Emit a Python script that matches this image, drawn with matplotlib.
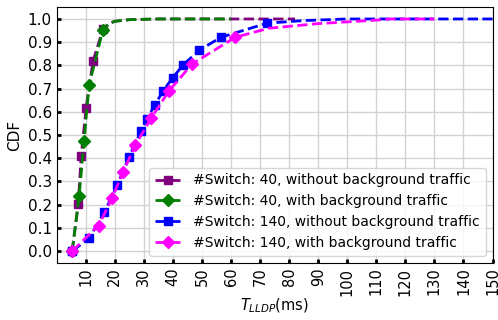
import matplotlib
matplotlib.use("Agg")
import matplotlib.pyplot as plt

# CDF of T_LLDP (ms)
x_40_nobg = [5.3, 7.4, 8.4, 10.1, 12.5, 15.9, 18, 20, 25, 35, 50, 82]
y_40_nobg = [0, 0.204, 0.41, 0.618, 0.82, 0.955, 0.98, 0.99, 0.997, 1.0, 1.0, 1.0]

x_40_bg = [5.3, 7.7, 9.4, 11.1, 15.9, 18, 20, 25, 35, 60]
y_40_bg = [0, 0.237, 0.475, 0.714, 0.954, 0.98, 0.99, 0.997, 1.0, 1.0]

x_140_nobg = [5.3, 11.2, 16.4, 20.8, 24.9, 29, 31, 33.7, 36.6, 39.9, 43.6, 49, 56.5, 72.4, 85, 100, 150]
y_140_nobg = [0, 0.056, 0.168, 0.284, 0.406, 0.517, 0.57, 0.628, 0.69, 0.747, 0.803, 0.865, 0.921, 0.982, 0.993, 1.0, 1.0]

x_140_bg = [5.3, 14.4, 19, 22.8, 27.1, 32.5, 38.6, 46.6, 61.4, 73, 90, 110, 115, 130]
y_140_bg = [0, 0.11, 0.227, 0.34, 0.458, 0.573, 0.69, 0.806, 0.921, 0.96, 0.98, 0.995, 1.0, 1.0]

labels = ["#Switch: 40, without background traffic",
          "#Switch: 40, with background traffic",
          "#Switch: 140, without background traffic",
          "#Switch: 140, with background traffic"]

fig = plt.figure(figsize=(4.98, 3.2), dpi=100)
ax = fig.add_axes([0.114, 0.179, 0.875, 0.798])

ax.plot(x_40_nobg, y_40_nobg, '--', color='purple', marker='s', markersize=6,
        linewidth=2, markevery=list(range(6)), label=labels[0])
ax.plot(x_40_bg, y_40_bg, '--', color='green', marker='D', markersize=6.5,
        linewidth=2, markevery=list(range(5)), label=labels[1])
ax.plot(x_140_nobg, y_140_nobg, '--', color='blue', marker='s', markersize=6,
        linewidth=2, markevery=list(range(14)), label=labels[2])
ax.plot(x_140_bg, y_140_bg, '--', color='magenta', marker='D', markersize=6.5,
        linewidth=2, markevery=list(range(9)), label=labels[3])

ax.set_xlim(0, 150)
ax.set_ylim(-0.05, 1.05)
ax.set_xticks(range(10, 151, 10))
ax.set_yticks([i / 10 for i in range(11)])
ax.tick_params(axis='both', direction='in', length=3, width=2)
ax.tick_params(axis='y', labelsize=11)
ax.tick_params(axis='x', labelsize=10.5, labelrotation=90)
ax.grid(True, color='#d3d3d3', linewidth=1)
ax.set_axisbelow(True)

ax.set_xlabel("$T_{LLDP}$(ms)", fontsize=10.5, labelpad=1)
ax.set_ylabel("CDF", fontsize=11)
ax.legend(loc='lower right', fontsize=10)

fig.savefig("out.png", dpi=100)
